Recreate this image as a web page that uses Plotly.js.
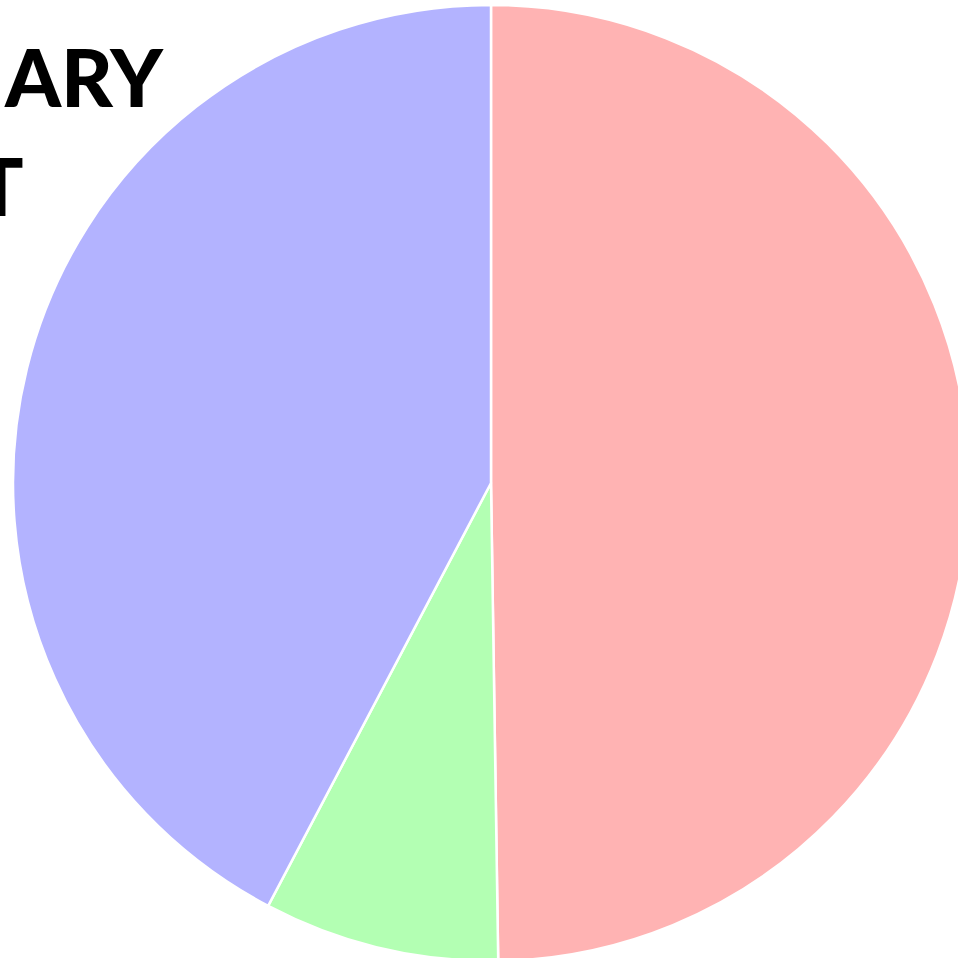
<!DOCTYPE html>
<html>
<head>
<meta charset="utf-8">
<script src="https://cdn.plot.ly/plotly-3.0.1.min.js"></script>
<style>
html, body { margin: 0; padding: 0; overflow: hidden; background: #ffffff; }
#chart { width: 1000px; height: 1000px; }
</style>
</head>
<body>
<div id="chart"></div>
<script>
const categories = ["Red", "Green", "Blue"];
const values = [49.76, 7.96, 42.28];
const colors = ["#FFB3B3", "#B3FFB3", "#B3B3FF"];
const titleLines = ["SUMMARY", "CHART"];

const W = 1000, H = 1000;
const cx = 491, cy = 483, r = 478;

const trace = {
  type: "pie",
  labels: categories,
  values: values,
  sort: false,
  direction: "clockwise",
  rotation: 0,
  textinfo: "none",
  hoverinfo: "label+percent",
  marker: { colors: colors, line: { color: "#ffffff", width: 2.5 } },
  domain: {
    x: [(cx - r) / W, (cx + r) / W],
    y: [(H - (cy + r)) / H, (H - (cy - r)) / H]
  }
};

const titleFont = { family: "Lato, 'Open Sans', sans-serif", size: 80, color: "#000000", weight: 900 };

const layout = {
  width: W,
  height: H,
  margin: { l: 0, r: 0, t: 0, b: 0, pad: 0 },
  paper_bgcolor: "#ffffff",
  showlegend: false,
  annotations: [
    {
      text: titleLines[0],
      xref: "paper", yref: "paper",
      x: 166 / W, y: 1 - 76 / H,
      xanchor: "right", yanchor: "middle",
      showarrow: false,
      font: titleFont
    },
    {
      text: titleLines[1],
      xref: "paper", yref: "paper",
      x: 26 / W, y: 1 - 185 / H,
      xanchor: "right", yanchor: "middle",
      showarrow: false,
      font: titleFont
    }
  ]
};

Plotly.newPlot("chart", [trace], layout, { displayModeBar: false, staticPlot: true });
</script>
</body>
</html>
